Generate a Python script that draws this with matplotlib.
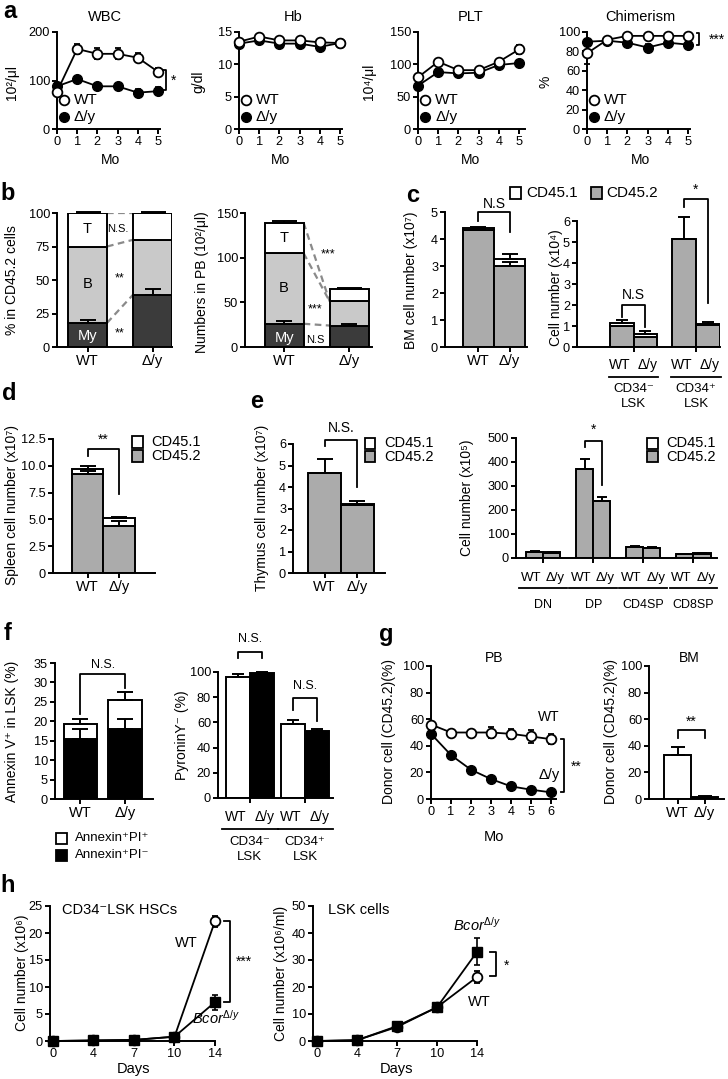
import numpy as np
import matplotlib
matplotlib.use('Agg')
import matplotlib.pyplot as plt
from matplotlib.lines import Line2D
from matplotlib.patches import Rectangle

plt.rcParams['font.family'] = ['Liberation Sans', 'DejaVu Sans']
plt.rcParams['mathtext.fontset'] = 'custom'
plt.rcParams['mathtext.rm'] = 'Liberation Sans'
plt.rcParams['mathtext.it'] = 'Liberation Sans:italic'

# ---------------- data ----------------
months = [0, 1, 2, 3, 4, 5]
wbc_wt = [77, 165, 155, 155, 147, 118]
wbc_wt_err = [8, 11, 11, 11, 9, 8]
wbc_ko = [88, 103, 88, 88, 75, 78]
wbc_ko_err = [6, 3, 3, 3, 8, 8]
hb_wt = [13.5, 14.3, 13.7, 13.7, 13.4, 13.3]
hb_wt_err = [0.3, 0.3, 0.3, 0.3, 0.3, 0.3]
hb_ko = [13.2, 13.7, 13.2, 13.2, 12.7, 13.3]
hb_ko_err = [0.3, 0.3, 0.3, 0.3, 0.3, 0.3]
plt_wt = [80, 104, 91, 91, 104, 123]
plt_wt_err = [3, 2, 2, 2, 2, 7]
plt_ko = [67, 88, 86, 87, 99, 102]
plt_ko_err = [2, 2, 2, 2, 3, 5]
chim_wt = [78, 92, 96, 96, 96, 96]
chim_wt_err = [11, 1, 1, 1, 1, 1]
chim_ko = [90, 91, 89, 84, 89, 87]
chim_ko_err = [1, 1, 1, 4, 1, 1]

genotypes = ['WT', 'Δ/y']
b_pct_my = [18, 39]
b_pct_b = [57, 41]
b_pct_t = [25, 20]
b_pct_my_err = [2, 4]
b_pct_t_err = [1, 1]
b_num_my = [26, 24]
b_num_b = [79, 27]
b_num_t = [34, 14]
b_num_my_err = [3, 2]
b_num_t_err = [1.5, 1]

bm_cd452 = [4.35, 3.0]
bm_cd451 = [0.05, 0.27]
bm_err = [0.05, 0.18]
bm_gray_err = [0.0, 0.15]

lsk_cd452 = [1.0, 0.5, 5.15, 1.05]
lsk_cd451 = [0.15, 0.13, 0.0, 0.05]
lsk_err = [0.13, 0.15, 1.05, 0.1]

spl_cd452 = [9.2, 4.4]
spl_cd451 = [0.5, 0.7]
spl_err = [0.25, 0.1]
spl_gray_err = [0.3, 0.45]

thy_cd452 = [4.65, 3.15]
thy_cd451 = [0.02, 0.05]
thy_err = [0.65, 0.15]

subsets = ['DN', 'DP', 'CD4SP', 'CD8SP']
sub_cd452 = [25, 22, 370, 238, 44, 42, 15, 18]
sub_cd451 = [1, 1, 1, 1, 1, 1, 1, 1]
sub_err = [3, 2, 40, 17, 3, 2, 2, 2]

ann_pi_neg = [15.5, 18]
ann_pi_neg_err = [2.5, 2.5]
ann_pi_pos = [3.8, 7.5]
ann_tot_err = [1.2, 2.0]

pyronin = [96, 99, 59, 53.5]
pyronin_err = [2.5, 1, 3, 1]

g_months = [0, 1, 2, 3, 4, 5, 6]
pb_wt = [56, 50, 50, 50, 49, 47, 45]
pb_wt_err = [2, 1, 2, 4, 4, 5, 4]
pb_ko = [49, 33, 22, 15, 9.5, 7, 5]
pb_ko_err = [1, 1, 1, 1, 1, 1, 1]
bm_donor = [33, 1.5]
bm_donor_err = [6, 0.5]

days = [0, 4, 7, 10, 14]
hsc_wt = [0, 0.1, 0.2, 0.8, 22.2]
hsc_wt_err = [0, 0, 0, 0.3, 1.0]
hsc_ko = [0, 0.1, 0.2, 0.8, 7.2]
hsc_ko_err = [0, 0, 0, 0.3, 1.4]
lskc_wt = [0, 0.3, 5.2, 12.5, 23.7]
lskc_wt_err = [0, 0, 0.5, 1, 2.2]
lskc_ko = [0, 0.3, 5.5, 12.5, 33]
lskc_ko_err = [0, 0, 0.5, 1, 5]

# ---------------- helpers ----------------
W, H = 728, 1079
fig = plt.figure(figsize=(W / 100, H / 100), dpi=100)
LW = 1.4
GRAY = '#ababab'


def add_ax(l, t, r, b):
    ax = fig.add_axes([l / W, 1 - b / H, (r - l) / W, (b - t) / H])
    ax._box = (l, t, r, b)
    for s in ['top', 'right']:
        ax.spines[s].set_visible(False)
    for s in ['left', 'bottom']:
        ax.spines[s].set_linewidth(LW)
    ax.tick_params(width=LW, length=3.5, labelsize=9.2, pad=1.5)
    ax.patch.set_alpha(0)
    return ax


def ftext(x, y, s, **kw):
    kw.setdefault('ha', 'center')
    kw.setdefault('va', 'center')
    kw.setdefault('fontsize', 10)
    return fig.text(x / W, 1 - y / H, s, **kw)


def ylab(x, y, s, fs=10):
    ftext(x, y, s, rotation=90, fontsize=fs)


def axy(ax, py):
    l, t, r, b = ax._box
    return (b - py) / (b - t)


def noclip(c):
    for a in c.get_children():
        a.set_clip_on(False)


def fmarker(x, y, **kw):
    fig.add_artist(Line2D([x / W], [1 - y / H], **kw))


def fsquare(x, y, fc, size=10):
    fig.add_artist(Rectangle(((x - size / 2) / W, 1 - (y + size / 2) / H), size / W, size / H,
                             transform=fig.transFigure, fc=fc, ec='k', lw=1.3))


def lines(ax, x, wt, wte, ko, koe, ko_marker='o', ms=7, ko_top=False):
    kw = dict(color='k', lw=1.3, ms=ms, capsize=2.5, elinewidth=1.2, capthick=1.2)
    c1 = ax.errorbar(x, ko, yerr=koe, marker=ko_marker, mfc='k', mec='k', zorder=5 if ko_top else 3, **kw)
    c2 = ax.errorbar(x, wt, yerr=wte, marker='o', mfc='white', mec='k', mew=1.3, zorder=4, **kw)
    noclip(c1)
    noclip(c2)


def side_bracket(ax, x, y1, y2, dx, text, tx, ty, fs=10):
    ax.plot([x - dx, x, x, x - dx], [y1, y1, y2, y2], color='k', lw=1.3, clip_on=False)
    ax.text(tx, ty, text, ha='center', va='center', fontsize=fs)


def top_bracket(ax, x0, x1, y, y0, y1, text, ty, fs=10):
    ax.plot([x0, x0, x1, x1], [y0, y, y, y1], color='k', lw=1.3, clip_on=False)
    ax.text((x0 + x1) / 2, ty, text, ha='center', va='center', fontsize=fs)


def up_err(ax, x, y, e, cap=5):
    c = ax.errorbar(x, y, yerr=[np.zeros(len(x)), e], fmt='none', ecolor='k',
                    elinewidth=LW, capsize=cap, capthick=LW, zorder=4)
    noclip(c)


def under_labels(ax, pairs, names, y_lab, y_line, y_name, half, name_dy=15, fs=10, spread=0.0):
    tr = ax.get_xaxis_transform()
    for (xa, xb), nm in zip(pairs, names):
        ax.text(xa - spread, axy(ax, y_lab), 'WT', transform=tr, ha='center', va='center', fontsize=fs, clip_on=False)
        ax.text(xb + spread, axy(ax, y_lab), 'Δ/y', transform=tr, ha='center', va='center', fontsize=fs, clip_on=False)
        ax.plot([xa - half, xb + half], [axy(ax, y_line)] * 2, transform=tr, color='k', lw=1.3, clip_on=False)
        for i, line in enumerate(nm.split('\n')):
            ax.text((xa + xb) / 2, axy(ax, y_name + i * name_dy), line, transform=tr,
                    ha='center', va='center', fontsize=fs - 0.5, clip_on=False)


# ---------------- panel a ----------------
a_specs = [
    ((57, 32, 160, 129), wbc_wt, wbc_wt_err, wbc_ko, wbc_ko_err, (0, 200), [0, 100, 200], 'WBC', 105, '10²/μl', 12, 110),
    ((239, 32, 342, 129), hb_wt, hb_wt_err, hb_ko, hb_ko_err, (0, 15), [0, 5, 10, 15], 'Hb', 293, 'g/dl', 198, 280),
    ((418, 32, 525, 129), plt_wt, plt_wt_err, plt_ko, plt_ko_err, (0, 150), [0, 50, 100, 150], 'PLT', 471, '10⁴/μl', 369, 471),
    ((587, 32, 690, 129), chim_wt, chim_wt_err, chim_ko, chim_ko_err, (0, 100), [0, 20, 40, 60, 80, 100], 'Chimerism', 640, '%', 546, 641),
]
a_axes = []
for box, wt, wte, ko, koe, yl, yt, title, tx, ylabel, ylx, mox in a_specs:
    ax = add_ax(*box)
    ax.set_xlim(0, (box[2] - box[0]) / 20.2)
    ax.set_ylim(*yl)
    ax.set_yticks(yt)
    ax.set_xticks(months)
    lines(ax, months, wt, wte, ko, koe, ms=7)
    ftext(tx, 17, title, fontsize=10.5)
    ylab(ylx, 82, ylabel)
    ftext(mox, 160, 'Mo', fontsize=10)
    fmarker(box[0] + 7, 100, marker='o', ms=7, mfc='white', mec='k', mew=1.3)
    fmarker(box[0] + 7, 117, marker='o', ms=7, mfc='k', mec='k')
    ftext(box[0] + 17, 100, 'WT', ha='left', fontsize=11)
    ftext(box[0] + 17, 117, 'Δ/y', ha='left', fontsize=11)
    a_axes.append(ax)

side_bracket(a_axes[0], 5.38, 122, 80, 0.12, '*', 5.75, 100)
side_bracket(a_axes[3], 5.55, 99, 87, 0.12, '***', 6.45, 92)

ftext(10, 12, 'a', fontsize=17, fontweight='bold')

# ---------------- panel b ----------------
ftext(8, 193, 'b', fontsize=17, fontweight='bold')
xb = np.arange(2)
bw = 0.6


def stack3(ax, my, bb, tt, my_err, t_err):
    my = np.array(my); bb = np.array(bb); tt = np.array(tt)
    ax.bar(xb, my, bw, color='#3b3b3b', edgecolor='k', lw=LW, zorder=2)
    ax.bar(xb, bb, bw, bottom=my, color='#c9c9c9', edgecolor='k', lw=LW, zorder=2)
    ax.bar(xb, tt, bw, bottom=my + bb, color='white', edgecolor='k', lw=LW, zorder=2)
    up_err(ax, xb, my, my_err, cap=6)
    up_err(ax, xb, my + bb + tt, t_err, cap=9)
    return my, my + bb, my + bb + tt


def dash(ax, y0, y1):
    ax.plot([bw / 2, 1 - bw / 2], [y0, y1], ls=(0, (3, 2)), color='#8a8a8a', lw=1.6, zorder=1)


ax = add_ax(57, 213, 172, 347)
ax.set_xlim(-0.47, 1.3)
ax.set_ylim(0, 100)
ax.set_yticks([0, 25, 50, 75, 100])
ax.set_xticks(xb)
ax.set_xticklabels(genotypes, fontsize=10.5)
m1, m2, m3 = stack3(ax, b_pct_my, b_pct_b, b_pct_t, b_pct_my_err, b_pct_t_err)
dash(ax, m3[0], m3[1]); dash(ax, m2[0], m2[1]); dash(ax, m1[0], m1[1])
ax.text(0, 88, 'T', ha='center', va='center', fontsize=10.5)
ax.text(0, 47, 'B', ha='center', va='center', fontsize=10.5)
ax.text(0, 8, 'My', ha='center', va='center', fontsize=10.5, color='white', zorder=5)
ax.text(0.46, 88, 'N.S.', ha='center', va='center', fontsize=8)
ax.text(0.5, 51, '**', ha='center', va='center', fontsize=9)
ax.text(0.5, 10, '**', ha='center', va='center', fontsize=9)
ylab(12, 280, '% in CD45.2 cells')

ax = add_ax(245, 213, 372, 347)
ax.set_xlim(-0.6, 1.35)
ax.set_ylim(0, 150)
ax.set_yticks([0, 50, 100, 150])
ax.set_xticks(xb)
ax.set_xticklabels(genotypes, fontsize=10.5)
m1, m2, m3 = stack3(ax, b_num_my, b_num_b, b_num_t, b_num_my_err, b_num_t_err)
dash(ax, m3[0], m2[1]); dash(ax, m2[0], m2[1]); dash(ax, m1[0], m1[1])
ax.text(0, 122, 'T', ha='center', va='center', fontsize=10.5)
ax.text(0, 66, 'B', ha='center', va='center', fontsize=10.5)
ax.text(0, 10, 'My', ha='center', va='center', fontsize=10.5, color='white', zorder=5)
ax.text(0.68, 104, '***', ha='center', va='center', fontsize=9)
ax.text(0.48, 42, '***', ha='center', va='center', fontsize=9)
ax.text(0.48, 8, 'N.S', ha='center', va='center', fontsize=8, zorder=6,
        bbox=dict(fc='white', ec='none', pad=0.6))
ylab(202, 282, 'Numbers in PB (10²/μl)')

# ---------------- panel c ----------------
ftext(413, 196, 'c', fontsize=17, fontweight='bold')
fsquare(516, 193, 'white', 11)
ftext(526, 193, 'CD45.1', ha='left', fontsize=11)
fsquare(596, 193, GRAY, 11)
ftext(606, 193, 'CD45.2', ha='left', fontsize=11)

ax = add_ax(445, 212, 527, 347)
ax.set_xlim(-1.06, 1.55)
ax.set_ylim(0, 5)
ax.set_yticks([0, 1, 2, 3, 4, 5])
ax.set_xticks(xb)
ax.set_xticklabels(genotypes, fontsize=10.5)
ax.bar(xb, bm_cd452, 1.0, color=GRAY, edgecolor='k', lw=LW, zorder=2)
ax.bar(xb, bm_cd451, 1.0, bottom=bm_cd452, color='white', edgecolor='k', lw=LW, zorder=2)
up_err(ax, xb, np.add(bm_cd452, bm_cd451), bm_err, cap=6)
up_err(ax, xb, bm_cd452, bm_gray_err, cap=6)
top_bracket(ax, 0, 1, 5.0, 4.65, 4.25, 'N.S', 5.3)
ylab(411, 280, 'BM cell number (x10⁷)')

xc = np.array([0, 1, 2.65, 3.65])
ax = add_ax(577, 221, 720, 347)
ax.set_xlim(-1.91, 4.17)
ax.set_ylim(0, 6)
ax.set_yticks([0, 1, 2, 3, 4, 5, 6])
ax.set_xticks([0.5, 3.15])
ax.set_xticklabels(['', ''])
ax.bar(xc, lsk_cd452, 1.0, color=GRAY, edgecolor='k', lw=LW, zorder=2)
ax.bar(xc, lsk_cd451, 1.0, bottom=lsk_cd452, color='white', edgecolor='k', lw=LW, zorder=2)
up_err(ax, xc, np.add(lsk_cd452, lsk_cd451), lsk_err, cap=4)
top_bracket(ax, 0, 1, 2.0, 1.45, 0.95, 'N.S', 2.5)
top_bracket(ax, 2.65, 3.65, 7.05, 6.65, 2.1, '*', 7.5)
under_labels(ax, [(0, 1), (2.65, 3.65)], ['CD34⁻\nLSK', 'CD34⁺\nLSK'], 365, 377, 389, 0.55, spread=0.1)
ylab(556, 288, 'Cell number (x10⁴)')

# ---------------- panel d ----------------
ftext(9, 394, 'd', fontsize=17, fontweight='bold')
ax = add_ax(53, 439, 155, 573)
ax.set_xlim(-1.1, 2.15)
ax.set_ylim(0, 12.5)
ax.set_yticks([0, 2.5, 5.0, 7.5, 10.0, 12.5])
ax.set_yticklabels(['0', '2.5', '5.0', '7.5', '10.0', '12.5'])
ax.set_xticks(xb)
ax.set_xticklabels(genotypes, fontsize=10.5)
ax.bar(xb, spl_cd452, 1.0, color=GRAY, edgecolor='k', lw=LW, zorder=2)
ax.bar(xb, spl_cd451, 1.0, bottom=spl_cd452, color='white', edgecolor='k', lw=LW, zorder=2)
up_err(ax, xb, np.add(spl_cd452, spl_cd451), spl_err, cap=6)
up_err(ax, xb, spl_cd452, spl_gray_err, cap=6)
top_bracket(ax, 0, 1, 11.6, 10.95, 7.4, '**', 12.4)
fsquare(137, 442, 'white', 11)
ftext(151, 442, 'CD45.1', ha='left', fontsize=10.5)
fsquare(137, 456, GRAY, 11)
ftext(151, 456, 'CD45.2', ha='left', fontsize=10.5)
ylab(12, 505, 'Spleen cell number (x10⁷)')

# ---------------- panel e ----------------
ftext(257, 401, 'e', fontsize=17, fontweight='bold')
ax = add_ax(293, 444, 385, 573)
ax.set_xlim(-0.97, 1.85)
ax.set_ylim(0, 6)
ax.set_yticks([0, 1, 2, 3, 4, 5, 6])
ax.set_xticks(xb)
ax.set_xticklabels(genotypes, fontsize=10.5)
ax.bar(xb, thy_cd452, 1.0, color=GRAY, edgecolor='k', lw=LW, zorder=2)
ax.bar(xb, thy_cd451, 1.0, bottom=thy_cd452, color='white', edgecolor='k', lw=LW, zorder=2)
up_err(ax, xb, np.add(thy_cd452, thy_cd451), thy_err, cap=6)
top_bracket(ax, 0, 1, 6.2, 5.9, 4.0, 'N.S.', 6.75)
ylab(262, 508, 'Thymus cell number (x10⁷)')
fsquare(370, 443, 'white', 11)
ftext(384, 443, 'CD45.1', ha='left', fontsize=10.5)
fsquare(370, 457, GRAY, 11)
ftext(384, 457, 'CD45.2', ha='left', fontsize=10.5)

xe = np.array([0, 1, 2.94, 3.94, 5.88, 6.88, 8.82, 9.82])
ax = add_ax(516, 438, 717, 558)
ax.set_xlim(-1.09, 10.7)
ax.set_ylim(0, 500)
ax.set_yticks([0, 100, 200, 300, 400, 500])
ax.set_xticks([0.5, 3.44, 6.38, 9.32])
ax.set_xticklabels(['', '', '', ''])
ax.bar(xe, sub_cd452, 1.0, color=GRAY, edgecolor='k', lw=LW, zorder=2)
ax.bar(xe, sub_cd451, 1.0, bottom=sub_cd452, color='white', edgecolor='k', lw=LW, zorder=2)
up_err(ax, xe, np.add(sub_cd452, sub_cd451), sub_err, cap=3.5)
top_bracket(ax, 2.94, 3.94, 487, 462, 304, '*', 533)
under_labels(ax, [(xe[0], xe[1]), (xe[2], xe[3]), (xe[4], xe[5]), (xe[6], xe[7])],
             subsets, 578, 588, 605, 0.9, fs=9.5, spread=0.22)
ylab(467, 498, 'Cell number (x10⁵)')
fsquare(652, 443, 'white', 11)
ftext(666, 443, 'CD45.1', ha='left', fontsize=10.5)
fsquare(652, 457, GRAY, 11)
ftext(666, 457, 'CD45.2', ha='left', fontsize=10.5)

# ---------------- panel f ----------------
ftext(8, 634, 'f', fontsize=17, fontweight='bold')
ax = add_ax(55, 663, 153, 799)
ax.set_xlim(-0.57, 1.63)
ax.set_ylim(0, 35)
ax.set_yticks([0, 5, 10, 15, 20, 25, 30, 35])
ax.set_xticks(xb)
ax.set_xticklabels(genotypes, fontsize=10.5)
ax.bar(xb, ann_pi_neg, 0.75, color='black', edgecolor='k', lw=LW, zorder=2)
ax.bar(xb, ann_pi_pos, 0.75, bottom=ann_pi_neg, color='white', edgecolor='k', lw=LW, zorder=2)
up_err(ax, xb, np.add(ann_pi_neg, ann_pi_pos), ann_tot_err, cap=6)
up_err(ax, xb, ann_pi_neg, ann_pi_neg_err, cap=6)
top_bracket(ax, 0, 1, 32.2, 21.8, 28.5, 'N.S.', 34.5, fs=9)
ylab(12, 731, 'Annexin V⁺ in LSK (%)')
fsquare(61, 838, 'white', 11)
ftext(75, 838, 'Annexin⁺PI⁺', ha='left', fontsize=9.5)
fsquare(61, 855, 'black', 11)
ftext(75, 855, 'Annexin⁺PI⁻', ha='left', fontsize=9.5)

xf = np.array([0, 1, 2.3, 3.3])
ax = add_ax(218, 672, 333, 798)
ax.set_xlim(-0.83, 3.96)
ax.set_ylim(0, 100)
ax.set_yticks([0, 20, 40, 60, 80, 100])
ax.set_xticks([0.5, 2.8])
ax.set_xticklabels(['', ''])
ax.bar(xf, pyronin, 1.0, color=['white', 'black', 'white', 'black'], edgecolor='k', lw=LW, zorder=2)
up_err(ax, xf, pyronin, pyronin_err, cap=4)
top_bracket(ax, 0, 1, 116, 111, 111, 'N.S.', 126, fs=9)
top_bracket(ax, 2.3, 3.3, 79, 70, 61, 'N.S.', 89, fs=9)
under_labels(ax, [(0, 1), (2.3, 3.3)], ['CD34⁻\nLSK', 'CD34⁺\nLSK'], 817, 829, 842, 0.65, spread=0.1)
ylab(182, 735, 'PyroninY⁻ (%)')

# ---------------- panel g ----------------
ftext(386, 635, 'g', fontsize=17, fontweight='bold')
ax = add_ax(431, 666, 556, 799)
ax.set_xlim(0, 6.25)
ax.set_ylim(0, 100)
ax.set_yticks([0, 20, 40, 60, 80, 100])
ax.set_xticks(g_months)
lines(ax, g_months, pb_wt, pb_wt_err, pb_ko, pb_ko_err, ms=7)
ax.text(5.9, 62, 'WT', ha='center', va='center', fontsize=10)
ax.text(5.9, 18, 'Δ/y', ha='center', va='center', fontsize=10.5)
side_bracket(ax, 6.65, 45, 5, 0.15, '**', 7.25, 24)
ftext(494, 658, 'PB', fontsize=10)
ftext(494, 837, 'Mo', fontsize=10.5)
ylab(389, 732, 'Donor cell (CD45.2)(%)')

ax = add_ax(649, 666, 724, 799)
ax.set_xlim(-1.06, 1.72)
ax.set_ylim(0, 100)
ax.set_yticks([0, 20, 40, 60, 80, 100])
ax.set_xticks(xb)
ax.set_xticklabels(genotypes, fontsize=10.5)
ax.bar(xb, bm_donor, 1.0, color=['white', 'black'], edgecolor='k', lw=LW, zorder=2)
up_err(ax, xb, bm_donor, bm_donor_err, cap=5)
top_bracket(ax, 0, 1, 52, 46, 46, '**', 58)
ftext(689, 658, 'BM', fontsize=10)
ylab(611, 732, 'Donor cell (CD45.2)(%)')

# ---------------- panel h ----------------
ftext(8, 886, 'h', fontsize=17, fontweight='bold')
xh = np.arange(len(days))
ax = add_ax(50, 906, 215, 1041)
ax.set_xlim(-0.074, 4.0)
ax.set_ylim(0, 25)
ax.set_yticks([0, 5, 10, 15, 20, 25])
ax.set_xticks(xh)
ax.set_xticklabels([str(d) for d in days])
lines(ax, xh, hsc_wt, hsc_wt_err, hsc_ko, hsc_ko_err, ko_marker='s', ms=7, ko_top=True)
ax.text(3.3, 18.1, 'WT', ha='center', va='center', fontsize=10.5)
ax.text(4.02, 4.3, r'$\mathit{Bcor}^{\mathit{Δ/y}}$', ha='center', va='center', fontsize=10.5)
side_bracket(ax, 4.37, 22.2, 7.2, 0.15, '***', 4.72, 14.6)
ftext(62, 910, 'CD34⁻LSK HSCs', ha='left', fontsize=10.5)
ftext(134, 1069, 'Days', fontsize=10.5)
ylab(22, 973, 'Cell number (x10⁶)')

ax = add_ax(313, 906, 477, 1041)
ax.set_xlim(-0.1, 4.0)
ax.set_ylim(0, 50)
ax.set_yticks([0, 10, 20, 30, 40, 50])
ax.set_xticks(xh)
ax.set_xticklabels([str(d) for d in days])
lines(ax, xh, lskc_wt, lskc_wt_err, lskc_ko, lskc_ko_err, ko_marker='s', ms=7, ko_top=True)
ax.text(4.0, 43, r'$\mathit{Bcor}^{\mathit{Δ/y}}$', ha='center', va='center', fontsize=10.5)
ax.text(4.05, 14.5, 'WT', ha='center', va='center', fontsize=10.5)
side_bracket(ax, 4.47, 33, 24, 0.15, '*', 4.73, 28)
ftext(328, 910, 'LSK cells', ha='left', fontsize=10.5)
ftext(397, 1069, 'Days', fontsize=10.5)
ylab(281, 973, 'Cell number (x10⁶/ml)')

fig.savefig('out.png', dpi=100)
